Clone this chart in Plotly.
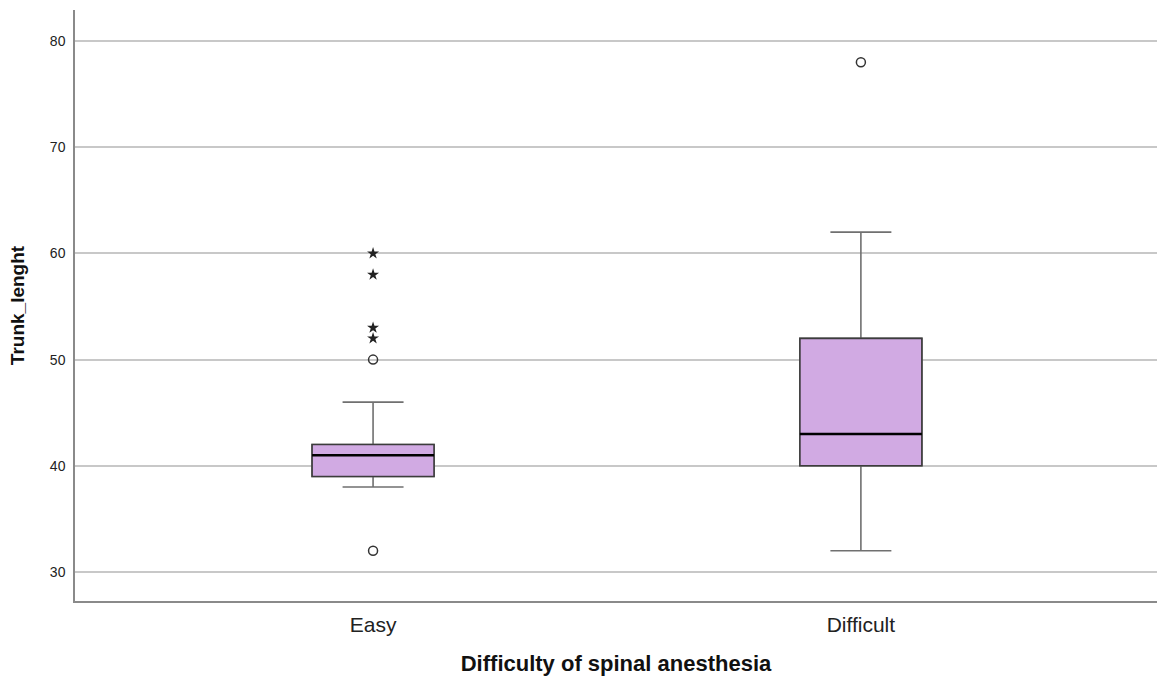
import plotly.graph_objects as go

groups = ["Easy", "Difficult"]
q1 = [39, 40]
median = [41, 43]
q3 = [42, 52]
lower_whisker = [38, 32]
upper_whisker = [46, 62]
circle_outliers = {"Easy": [50, 32], "Difficult": [78]}
star_outliers = {"Easy": [60, 58, 53, 52], "Difficult": []}
y_ticks = [30, 40, 50, 60, 70, 80]

FILL = "#d1aae3"
BOX_W = 0.25

fig = go.Figure()
for i, g in enumerate(groups):
    # whiskers (gray)
    fig.add_trace(go.Box(
        x=[g], q1=[q1[i]], median=[median[i]], q3=[q3[i]],
        lowerfence=[lower_whisker[i]], upperfence=[upper_whisker[i]],
        width=BOX_W, whiskerwidth=0.5, fillcolor=FILL,
        line=dict(color="#707070", width=1.6), boxpoints=False,
        showlegend=False, hoverinfo="skip"))
    # box body (darker outline)
    fig.add_trace(go.Box(
        x=[g], q1=[q1[i]], median=[median[i]], q3=[q3[i]],
        lowerfence=[q1[i]], upperfence=[q3[i]],
        width=BOX_W, whiskerwidth=0, fillcolor=FILL,
        line=dict(color="#3c3c3c", width=1.6), boxpoints=False,
        showlegend=False, hoverinfo="skip"))
    # median
    fig.add_trace(go.Scatter(
        x=[i - BOX_W / 2, i + BOX_W / 2], y=[median[i], median[i]],
        mode="lines", line=dict(color="black", width=2.4),
        xaxis="x2", showlegend=False, hoverinfo="skip"))
    if circle_outliers[g]:
        fig.add_trace(go.Scatter(
            x=[g] * len(circle_outliers[g]), y=circle_outliers[g], mode="markers",
            marker=dict(symbol="circle-open", size=9, color="#333333", line=dict(width=1.5)),
            showlegend=False))
    if star_outliers[g]:
        fig.add_trace(go.Scatter(
            x=[g] * len(star_outliers[g]), y=star_outliers[g], mode="markers",
            marker=dict(symbol="star", size=9, color="#222222", line=dict(width=0)),
            showlegend=False))

xr = [-0.611, 1.607]
fig.update_layout(
    width=1157, height=682,
    margin=dict(l=75, r=0, t=10, b=81),
    paper_bgcolor="white", plot_bgcolor="white",
    boxmode="overlay",
    font=dict(family="Liberation Sans, Arial, sans-serif", color="#222222"),
    xaxis=dict(
        type="category", range=xr, showgrid=False,
        showline=True, linecolor="#8a8a8a", linewidth=1.5,
        ticks="outside", ticklen=4, tickcolor="rgba(0,0,0,0)",
        tickfont=dict(size=21, color="#222222"),
        title=dict(text="<b>Difficulty of spinal anesthesia</b>", font=dict(size=22, color="#111111"), standoff=21),
        zeroline=False),
    xaxis2=dict(overlaying="x", range=xr, visible=False),
    yaxis=dict(
        range=[27.27, 82.92], tickvals=y_ticks,
        showgrid=True, gridcolor="#c8c8c8", gridwidth=1.5,
        showline=True, linecolor="#8a8a8a", linewidth=1.5,
        ticks="outside", ticklen=5, tickcolor="rgba(0,0,0,0)",
        tickfont=dict(size=14, color="#222222"),
        title=dict(text="<b>Trunk_lenght</b>", font=dict(size=19, color="#111111"), standoff=20),
        zeroline=False),
)

fig.write_html("out.html")
